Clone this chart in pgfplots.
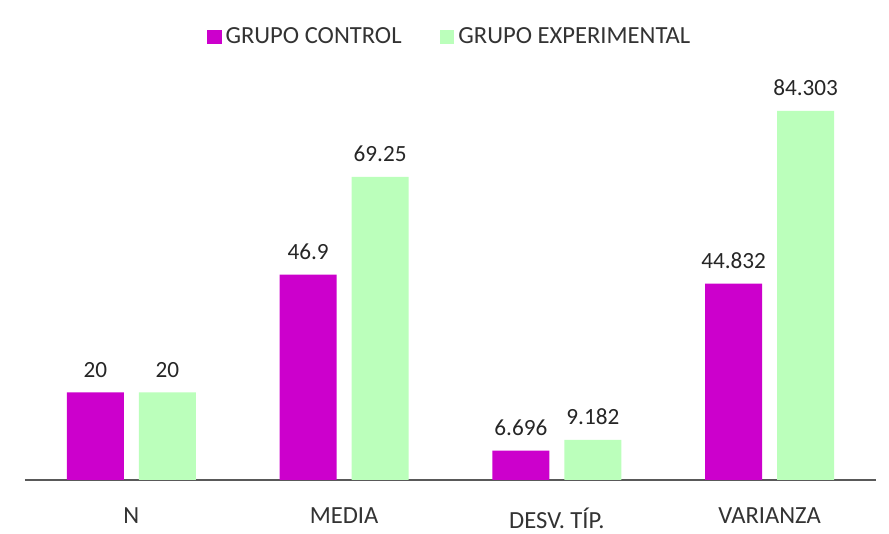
\documentclass[border=0pt]{standalone}
\usepackage{fontspec}
\setmainfont{Carlito}
\usepackage{pgfplots}
\pgfplotsset{compat=1.18}
\definecolor{ctrl}{HTML}{CC00CC}
\definecolor{expe}{HTML}{BBFFBB}
\definecolor{txt}{HTML}{333333}
\begin{document}
\begin{tikzpicture}
\path[use as bounding box, fill=white] (0,0) rectangle (444.5pt,267pt);
\begin{axis}[
  at={(12.5pt,27pt)}, anchor=south west,
  scale only axis, width=425.5pt, height=208pt,
  ybar, bar width=28.5pt,
  xmin=-0.5, xmax=3.5, ymin=0, ymax=95,
  axis y line=none,
  axis x line*=bottom,
  x axis line style={draw=black!65, line width=1pt, -},
  xtick={0,1,2,3},
  xticklabels={N, MEDIA, DESV. TÍP., VARIANZA},
  xtick style={draw=none},
  xticklabel style={font=\fontsize{12.3}{14}\selectfont, text=txt, yshift=-6pt},
  point meta=explicit symbolic,
  nodes near coords,
  every node near coord/.append style={font=\fontsize{11.6}{13}\selectfont, text=black!85, yshift=4pt},
  legend style={at={(0.5,1.065)}, anchor=center, draw=none, fill=none,
    font=\fontsize{12.3}{14}\selectfont, text=txt,
    legend columns=2, /tikz/every even column/.append style={column sep=17pt}},
  legend image code/.code={\fill[#1] (0pt,-3.7pt) rectangle (7.4pt,3.7pt);},
  clip=false,
]
\addplot[fill=ctrl, draw=none, bar shift=-18pt] coordinates {
  (0,20) [20] (1,46.9) [46.9] (2,6.696) [6.696] (3,44.832) [44.832]};
\addplot[fill=expe, draw=none, bar shift=18pt] coordinates {
  (0,20) [20] (1,69.25) [69.25] (2,9.182) [9.182] (3,84.303) [84.303]};
\legend{GRUPO CONTROL, GRUPO EXPERIMENTAL}
\end{axis}
\end{tikzpicture}
\end{document}
